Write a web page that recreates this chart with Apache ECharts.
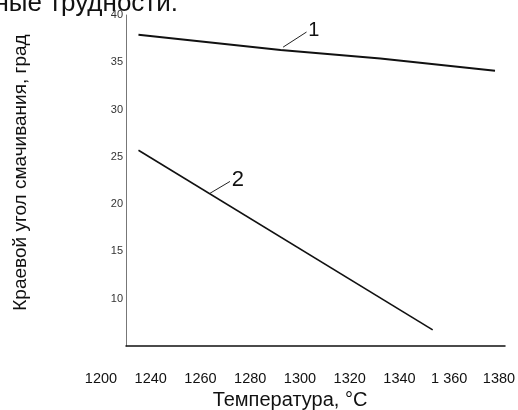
<!DOCTYPE html>
<html>
<head>
<meta charset="utf-8">
<script src="https://cdn.jsdelivr.net/npm/echarts@6/dist/echarts.min.js"></script>
<style>
  html, body { margin: 0; padding: 0; background: #fff; }
  #chart { width: 518px; height: 410px; }
</style>
</head>
<body>
<div id="chart"></div>
<script>
// подписи оси X (в оригинале шаг неравномерный, "1 360" с пробелом)
const xTickLabels = ["1200", "1240", "1260", "1280", "1300", "1320", "1340", "1 360", "1380"];
// кривая 1: [температура, угол]
const curve1 = [[1235, 37.9], [1292, 36.3], [1332, 35.4], [1378, 34.1]];
// кривая 2
const curve2 = [[1235, 25.7], [1353, 6.7]];
// выноски с номерами кривых
const leader1 = [[1293, 36.6], [1302.4, 38.2]];
const leader2 = [[1263.7, 21.15], [1271.7, 22.4]];

const FONT = "Liberation Sans, Arial, sans-serif";

const chart = echarts.init(document.getElementById("chart"));

function leader(pts, text, size) {
  return {
    silent: true,
    symbol: "none",
    lineStyle: { color: "#222", width: 1, type: "solid" },
    label: {
      show: true,
      position: "end",
      formatter: text,
      color: "#111",
      fontSize: size,
      fontFamily: FONT,
      distance: 2
    },
    data: [[{ coord: pts[0] }, { coord: pts[1] }]]
  };
}

const option = {
  animation: false,
  backgroundColor: "#fff",
  graphic: [
    {
      type: "text",
      right: 518 - 178,
      top: -9,
      style: { text: "ные трудности.", fontSize: 26, fontFamily: FONT, fill: "#111" }
    }
  ],
  grid: [
    { left: 126, right: 13, top: 15, bottom: 64, outerBoundsMode: "none" },
    { left: 101, right: 19, top: 15, bottom: 64, outerBoundsMode: "none" }
  ],
  xAxis: [
    {
      type: "value",
      gridIndex: 0,
      min: 1230,
      max: 1382,
      axisLine: { show: true, lineStyle: { color: "#111", width: 1.5 } },
      axisTick: { show: false },
      axisLabel: { show: false },
      splitLine: { show: false }
    },
    {
      type: "category",
      gridIndex: 1,
      data: xTickLabels,
      boundaryGap: false,
      axisLine: { show: false },
      axisTick: { show: false },
      axisLabel: { color: "#111", fontSize: 14.5, fontFamily: FONT, margin: 25, interval: 0 },
      name: "Температура, °C",
      nameLocation: "middle",
      nameGap: 40,
      nameTextStyle: { color: "#111", fontSize: 20, fontFamily: FONT, padding: [0, 20, 0, 0] }
    }
  ],
  yAxis: [
    {
      type: "value",
      gridIndex: 0,
      min: 5,
      max: 40,
      interval: 5,
      axisLine: { show: true, lineStyle: { color: "#777", width: 1 } },
      axisTick: { show: false },
      axisLabel: { color: "#333", fontSize: 11, fontFamily: FONT, margin: 3, showMinLabel: false },
      splitLine: { show: false },
      name: "Краевой угол смачивания, град",
      nameLocation: "middle",
      nameGap: 96,
      nameTextStyle: { color: "#111", fontSize: 19, fontFamily: FONT, padding: [0, 0, 0, 16] }
    },
    {
      type: "value",
      gridIndex: 1,
      show: false
    }
  ],
  series: [
    {
      name: "1",
      type: "line",
      xAxisIndex: 0,
      yAxisIndex: 0,
      data: curve1,
      symbol: "none",
      lineStyle: { color: "#111", width: 2 },
      markLine: leader(leader1, "1", 20)
    },
    {
      name: "2",
      type: "line",
      xAxisIndex: 0,
      yAxisIndex: 0,
      data: curve2,
      symbol: "none",
      lineStyle: { color: "#111", width: 1.6 },
      markLine: leader(leader2, "2", 22)
    }
  ]
};

chart.setOption(option);
</script>
</body>
</html>
